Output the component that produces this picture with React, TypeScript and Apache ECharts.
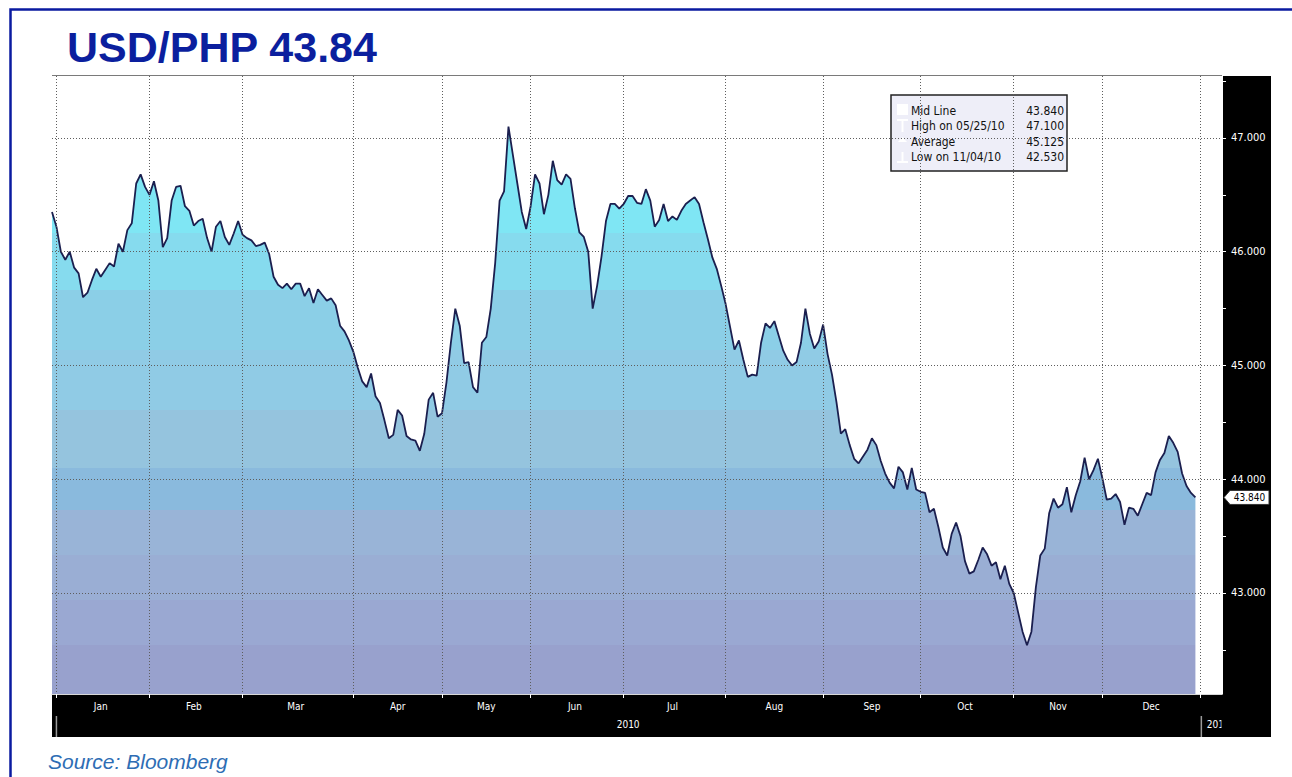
import React, { useEffect, useRef } from "react";
import * as echarts from "echarts";

// ---- Text ----
const TITLE = "USD/PHP 43.84";
const SOURCE = "Source: Bloomberg";
const YEAR_LABEL = "2010";
const NEXT_YEAR_LABEL = "2011";
const MONTHS = ["Jan", "Feb", "Mar", "Apr", "May", "Jun", "Jul", "Aug", "Sep", "Oct", "Nov", "Dec"];

// ---- Daily USD/PHP closes (trading days) ----
const DEC_2009 = [46.35];
const JAN = [46.22, 46.0, 45.93, 46.0, 45.86, 45.81, 45.6, 45.64, 45.75, 45.85, 45.78, 45.84, 45.9, 45.87, 46.07, 46.0, 46.19, 46.25, 46.6, 46.68, 46.57];
const FEB = [46.5, 46.62, 46.45, 46.04, 46.12, 46.45, 46.57, 46.58, 46.4, 46.36, 46.23, 46.27, 46.29, 46.12, 46.0, 46.22, 46.27, 46.13, 46.06, 46.16, 46.27];
const MAR = [46.15, 46.12, 46.1, 46.05, 46.06, 46.08, 45.98, 45.78, 45.71, 45.68, 45.72, 45.67, 45.72, 45.72, 45.61, 45.68, 45.55, 45.67, 45.62, 45.57, 45.59, 45.53, 45.35, 45.3, 45.22];
const APR = [45.12, 44.98, 44.86, 44.81, 44.93, 44.73, 44.67, 44.52, 44.36, 44.39, 44.61, 44.56, 44.38, 44.35, 44.34, 44.25, 44.4, 44.7, 44.76, 44.55];
const MAY = [44.58, 44.85, 45.2, 45.5, 45.35, 45.02, 45.03, 44.81, 44.76, 45.2, 45.25, 45.5, 45.9, 46.45, 46.53, 47.1, 46.85, 46.6, 46.35, 46.2];
const JUN = [46.4, 46.68, 46.6, 46.33, 46.5, 46.8, 46.63, 46.59, 46.68, 46.64, 46.38, 46.17, 46.13, 46.0, 45.5, 45.7, 45.96, 46.27, 46.42, 46.42, 46.38];
const JUL = [46.42, 46.49, 46.49, 46.43, 46.42, 46.55, 46.45, 46.22, 46.28, 46.42, 46.27, 46.31, 46.28, 46.36, 46.42, 46.45, 46.48, 46.42, 46.26, 46.11, 45.95, 45.85, 45.7];
const AUG = [45.54, 45.34, 45.14, 45.22, 45.05, 44.9, 44.92, 44.91, 45.2, 45.37, 45.33, 45.39, 45.26, 45.13, 45.05, 45.0, 45.03, 45.2, 45.5, 45.28, 45.15, 45.21];
const SEP = [45.36, 45.1, 44.92, 44.68, 44.4, 44.44, 44.3, 44.18, 44.14, 44.2, 44.26, 44.36, 44.3, 44.16, 44.05, 43.97, 43.92, 44.11, 44.06, 43.91, 44.1, 43.91];
const OCT = [43.89, 43.88, 43.71, 43.74, 43.58, 43.4, 43.33, 43.52, 43.62, 43.5, 43.28, 43.17, 43.19, 43.29, 43.4, 43.34, 43.24, 43.27, 43.12, 43.24, 43.08];
const NOV = [43.0, 42.83, 42.66, 42.54, 42.66, 43.05, 43.33, 43.39, 43.7, 43.83, 43.75, 43.78, 43.93, 43.71, 43.86, 43.98, 44.19, 44.0, 44.08, 44.18];
const DEC = [44.01, 43.82, 43.83, 43.87, 43.8, 43.6, 43.75, 43.74, 43.68, 43.78, 43.88, 43.86, 44.06, 44.17, 44.23, 44.38, 44.32, 44.24, 44.05, 43.94, 43.88, 43.84];
const MONTH_VALUES = [JAN, FEB, MAR, APR, MAY, JUN, JUL, AUG, SEP, OCT, NOV, DEC];
const TRAILING_EMPTY_DAYS = 6;
const LAST_VALUE = 43.84;

// ---- Axis ----
const Y_MIN = 42.112;
const Y_MAX = 47.545;
const Y_LABEL_VALUES = [43, 44, 45, 46, 47];
const Y_TICK_VALUES = [42.5, 43, 43.5, 44, 44.5, 45, 45.5, 46, 46.5, 47, 47.5];

// ---- Stats box ----
const LEGEND_LABELS = ["Mid Line", "High on 05/25/10", "Average", "Low on 11/04/10"];
const LEGEND_VALUES = ["43.840", "47.100", "45.125", "42.530"];

const FONT = '"DejaVu Sans Condensed", "Liberation Sans Narrow", "DejaVu Sans", sans-serif';
const SANS = '"Liberation Sans", Arial, sans-serif';

// build categories / values
const categories: string[] = [];
const values: (number | string)[] = [];
const monthStart = new Set<number>();
const monthMid = new Map<string, string>();
categories.push("2009-12-31");
values.push(DEC_2009[0]);
MONTH_VALUES.forEach((arr, m) => {
  const start = categories.length;
  monthStart.add(start);
  arr.forEach((v, k) => {
    categories.push(`2010-${m + 1}-${k + 1}`);
    values.push(v);
  });
  monthMid.set(categories[start + Math.floor(arr.length / 2)], MONTHS[m]);
});
const NEXT_YEAR_START = categories.length;
monthStart.add(NEXT_YEAR_START);
for (let k = 0; k < TRAILING_EMPTY_DAYS; k++) {
  categories.push(`2011-1-${k + 1}`);
  values.push("-");
}

const BANDS: [number, string][] = [
  [0.0, "#7fe6f4"],
  [0.254, "#86dbee"],
  [0.346, "#8bcfe7"],
  [0.443, "#90cbe5"],
  [0.54, "#95c4de"],
  [0.634, "#8abadd"],
  [0.702, "#99b4d7"],
  [0.775, "#9aaed4"],
  [0.848, "#9aa8d2"],
  [0.921, "#98a1cd"],
];

function bandStops() {
  const stops: { offset: number; color: string }[] = [];
  BANDS.forEach(([o, c], i) => {
    const end = i + 1 < BANDS.length ? BANDS[i + 1][0] : 1;
    stops.push({ offset: o, color: c });
    stops.push({ offset: Math.max(o, end - 0.0001), color: c });
  });
  return stops;
}

const GRID_LINE = { type: [1, 2], color: "#5e5e5e", width: 1 };

export default function App() {
  const ref = useRef<HTMLDivElement>(null);
  useEffect(() => {
    if (!ref.current) return;
    const chart = echarts.init(ref.current, undefined, { renderer: "svg" });
    const option: any = {
      animation: false,
      backgroundColor: "#ffffff",
      grid: { left: 52, right: 70, top: 76, bottom: 83, containLabel: false },
      xAxis: {
        type: "category",
        data: categories,
        boundaryGap: false,
        z: 5,
        axisLine: { show: true, lineStyle: { color: "#d8d8d8", width: 1 } },
        axisTick: {
          show: true,
          interval: (i: number) => monthStart.has(i),
          length: 4,
          lineStyle: { color: "#ffffff", width: 1 },
        },
        axisLabel: {
          interval: (i: number) => monthMid.has(categories[i]),
          formatter: (v: string) => monthMid.get(v) ?? "",
          color: "#ffffff",
          fontSize: 10,
          fontFamily: FONT,
          margin: 7,
        },
        splitLine: {
          show: true,
          interval: (i: number) => monthStart.has(i),
          lineStyle: GRID_LINE,
        },
      },
      yAxis: {
        type: "value",
        position: "right",
        min: Y_MIN,
        max: Y_MAX,
        z: 5,
        axisLine: { show: true, lineStyle: { color: "#ffffff", width: 1 } },
        axisTick: { show: true, customValues: Y_TICK_VALUES, length: 4, lineStyle: { color: "#ffffff" } },
        axisLabel: {
          customValues: Y_LABEL_VALUES,
          formatter: (v: number) => v.toFixed(3),
          color: "#ffffff",
          fontSize: 11,
          fontFamily: FONT,
          margin: 9,
        },
        splitLine: { show: false },
      },
      series: [
        {
          type: "line",
          data: values,
          symbol: "none",
          showSymbol: false,
          z: 2,
          lineStyle: { color: "#1b1f4f", width: 1.8 },
          areaStyle: {
            opacity: 1,
            color: { type: "linear", x: 0, y: 76, x2: 0, y2: 694, global: true, colorStops: bandStops() },
          },
          markLine: {
            silent: true,
            symbol: ["none", "none"],
            label: { show: false },
            lineStyle: GRID_LINE,
            emphasis: { disabled: true },
            data: Y_LABEL_VALUES.map((v) => ({ yAxis: v })),
          },
        },
      ],
    };
    chart.setOption(option);

    const yLast = chart.convertToPixel({ yAxisIndex: 0 }, LAST_VALUE) as number;
    const xJan = chart.convertToPixel({ xAxisIndex: 0 }, categories[1]) as number;
    const xNext = chart.convertToPixel({ xAxisIndex: 0 }, categories[NEXT_YEAR_START]) as number;

    const legendX = 891;
    const legendY = 95;
    const rowH = 15.5;
    const legendChildren: any[] = [
      {
        type: "rect",
        shape: { x: 0, y: 0, width: 176, height: 76 },
        style: { fill: "#eeeef8", stroke: "#222222", lineWidth: 1.5 },
      },
      { type: "rect", shape: { x: 6, y: 9, width: 11, height: 11 }, style: { fill: "#ffffff" } },
      { type: "polyline", shape: { points: [[6, 25], [17, 25]] }, style: { stroke: "#ffffff", lineWidth: 2 } },
      { type: "polyline", shape: { points: [[11.5, 25], [11.5, 37]] }, style: { stroke: "#ffffff", lineWidth: 2 } },
      { type: "polygon", shape: { points: [[7, 47], [11.5, 42], [16, 47]] }, style: { fill: "#ffffff" } },
      { type: "polyline", shape: { points: [[11.5, 57], [11.5, 67]] }, style: { stroke: "#ffffff", lineWidth: 2 } },
      { type: "polyline", shape: { points: [[6, 67], [17, 67]] }, style: { stroke: "#ffffff", lineWidth: 2 } },
    ];
    LEGEND_LABELS.forEach((t, i) => {
      legendChildren.push({
        type: "text",
        x: 20,
        y: 15.5 + i * rowH,
        style: { text: t, fill: "#111111", font: `12px ${FONT}`, align: "left", verticalAlign: "middle" },
      });
      legendChildren.push({
        type: "text",
        x: 173,
        y: 15.5 + i * rowH,
        style: { text: LEGEND_VALUES[i], fill: "#111111", font: `12px ${FONT}`, align: "right", verticalAlign: "middle" },
      });
    });

    chart.setOption({
      graphic: [
        {
          type: "rect",
          z: 30,
          silent: true,
          shape: { x: 10.5, y: 9.5, width: 1300, height: 820 },
          style: { fill: "none", stroke: "#0a1aa0", lineWidth: 2.5 },
        },
        {
          type: "text",
          x: 67,
          y: 47,
          style: { text: TITLE, fill: "#0b1f9e", font: `bold 43px ${SANS}`, align: "left", verticalAlign: "middle" },
        },
        {
          type: "text",
          x: 48,
          y: 761.5,
          style: { text: SOURCE, fill: "#2e6db4", font: `italic 21px ${SANS}`, align: "left", verticalAlign: "middle" },
        },
        {
          type: "line",
          z: 6,
          shape: { x1: 52, y1: 75.5, x2: 1222, y2: 75.5 },
          style: { stroke: "#7a7a7a", lineWidth: 1 },
        },
        { type: "rect", z: -1, shape: { x: 52, y: 694, width: 1219, height: 43 }, style: { fill: "#000000" } },
        { type: "rect", z: -1, shape: { x: 1222, y: 76, width: 49, height: 661 }, style: { fill: "#000000" } },
        {
          type: "text",
          z: 6,
          x: (xJan + xNext) / 2,
          y: 724,
          style: { text: YEAR_LABEL, fill: "#ffffff", font: `10px ${FONT}`, align: "center", verticalAlign: "middle" },
        },
        {
          type: "text",
          z: 6,
          x: xNext + 7,
          y: 724,
          style: { text: NEXT_YEAR_LABEL, fill: "#ffffff", font: `10px ${FONT}`, align: "left", verticalAlign: "middle" },
        },
        { type: "rect", z: 7, shape: { x: 1221.5, y: 714, width: 49.5, height: 23 }, style: { fill: "#000000" } },
        {
          type: "line",
          z: 8,
          shape: { x1: xJan, y1: 716, x2: xJan, y2: 737 },
          style: { stroke: "#9a9a9a", lineWidth: 1.5 },
        },
        {
          type: "line",
          z: 8,
          shape: { x1: xNext + 1.5, y1: 716, x2: xNext + 1.5, y2: 737 },
          style: { stroke: "#9a9a9a", lineWidth: 1.5 },
        },
        {
          type: "group",
          z: 10,
          x: legendX,
          y: legendY,
          children: legendChildren,
        },
        {
          type: "polygon",
          z: 10,
          shape: {
            points: [
              [1224, yLast],
              [1230, yLast - 7],
              [1269, yLast - 7],
              [1269, yLast + 7],
              [1230, yLast + 7],
            ],
          },
          style: { fill: "#ffffff", stroke: "#333333", lineWidth: 1 },
        },
        {
          type: "text",
          z: 11,
          x: 1249.5,
          y: yLast,
          style: {
            text: LAST_VALUE.toFixed(3),
            fill: "#000000",
            font: `10px ${FONT}`,
            align: "center",
            verticalAlign: "middle",
          },
        },
      ],
    });

    return () => chart.dispose();
  }, []);

  return (
    <div
      ref={ref}
      style={{ position: "absolute", left: 0, top: 0, width: 1292, height: 777 }}
    />
  );
}
